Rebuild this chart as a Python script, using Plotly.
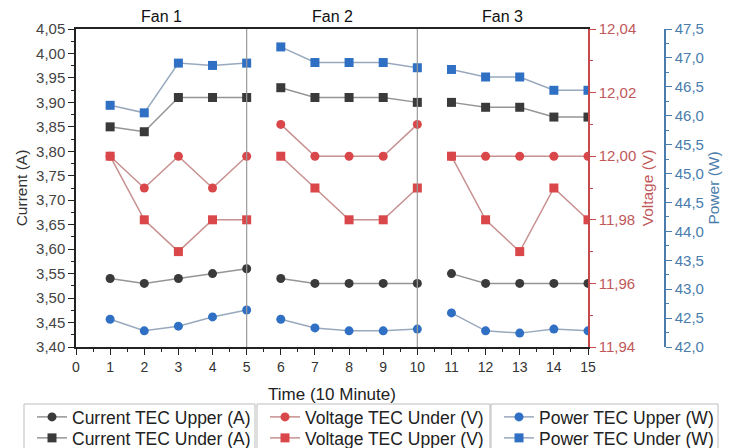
import plotly.graph_objects as go

# ---------------- data ----------------
time = list(range(1, 16))
fan_labels = ["Fan 1", "Fan 2", "Fan 3"]
fan_centers = [2.5, 7.5, 12.5]
fan_boundaries = [5, 10]
points_per_fan = 5

cur_upper = [3.54, 3.53, 3.54, 3.55, 3.56, 3.54, 3.53, 3.53, 3.53, 3.53, 3.55, 3.53, 3.53, 3.53, 3.53]
cur_under = [3.85, 3.84, 3.91, 3.91, 3.91, 3.93, 3.91, 3.91, 3.91, 3.90, 3.90, 3.89, 3.89, 3.87, 3.87]
volt_under = [12.00, 11.99, 12.00, 11.99, 12.00, 12.01, 12.00, 12.00, 12.00, 12.01, 12.00, 12.00, 12.00, 12.00, 12.00]
volt_upper = [12.00, 11.98, 11.97, 11.98, 11.98, 12.00, 11.99, 11.98, 11.98, 11.99, 12.00, 11.98, 11.97, 11.99, 11.98]
pow_upper = [42.48, 42.28, 42.36, 42.52, 42.64, 42.48, 42.33, 42.28, 42.28, 42.31, 42.59, 42.28, 42.24, 42.31, 42.28]
pow_under = [46.18, 46.05, 46.91, 46.87, 46.91, 47.19, 46.92, 46.92, 46.92, 46.83, 46.80, 46.67, 46.67, 46.44, 46.44]

FONT = "Liberation Sans, Arial, sans-serif"
RED = "#c8494b"
RED_TXT = "#c0585a"
BLUE_TXT = "#4a7dab"

W, H = 738, 448
L, R, T, B = 76, 10, 29, 101
paper_w = W - L - R
paper_h = H - T - B
plot_right = 588
dom_end = (plot_right - L) / paper_w
power_pos = (665 - L) / paper_w


def gapped(values):
    xs, ys = [], []
    for i in range(0, len(values), points_per_fan):
        xs += time[i:i + points_per_fan] + [None]
        ys += values[i:i + points_per_fan] + [None]
    return xs, ys


def px_to_paper_x(px):
    return (px - L) / paper_w


def px_to_paper_y(py):
    return (H - B - py) / paper_h


# (name, values, axis, symbol, marker colour, line colour, legend column, legend row)
series = [
    ("Current TEC Upper (A)", cur_upper, "y", "circle", "#3a3a3a", "#959595", 0, 0),
    ("Current TEC Under (A)", cur_under, "y", "square", "#3a3a3a", "#959595", 0, 1),
    ("Voltage TEC Under (V)", volt_under, "y2", "circle", "#d9474a", "#c89090", 1, 0),
    ("Voltage TEC Upper (V)", volt_upper, "y2", "square", "#d9474a", "#c89090", 1, 1),
    ("Power TEC Upper (W)", pow_upper, "y3", "circle", "#2f6fc4", "#98a9bd", 2, 0),
    ("Power TEC Under (W)", pow_under, "y3", "square", "#2f6fc4", "#98a9bd", 2, 1),
]

# legend box geometry (pixels)
box_left = [24, 257, 491]
box_right = [255, 490, 718]
box_top = 404
box_bottom = 452
row_centers = [417, 438]

fig = go.Figure()
legend_layout = {}
for k, (name, vals, yax, sym, mcol, lcol, col, row) in enumerate(series):
    xs, ys = gapped(vals)
    leg_id = "legend" if k == 0 else f"legend{k + 1}"
    fig.add_trace(go.Scatter(
        x=xs, y=ys, name=name, yaxis=yax, mode="lines+markers",
        connectgaps=False,
        line=dict(color=lcol, width=1.5),
        marker=dict(symbol=sym, size=9, color=mcol),
        legend=leg_id,
    ))
    legend_layout[leg_id] = dict(
        x=px_to_paper_x(box_left[col] + 8), y=px_to_paper_y(row_centers[row]),
        xanchor="left", yanchor="middle",
        bgcolor="rgba(0,0,0,0)", borderwidth=0,
        font=dict(family=FONT, size=17.5, color="#222"),
        itemwidth=30,
    )

for x0, x1 in zip(box_left, box_right):
    fig.add_shape(type="rect", xref="paper", yref="paper",
                  x0=px_to_paper_x(x0), x1=px_to_paper_x(x1),
                  y0=px_to_paper_y(box_bottom), y1=px_to_paper_y(box_top),
                  line=dict(color="#bdbdbd", width=1), fillcolor="rgba(0,0,0,0)")

for xb in fan_boundaries:
    fig.add_shape(type="line", xref="x", yref="paper", x0=xb, x1=xb, y0=0, y1=1,
                  line=dict(color="#9a9a9a", width=1.2))

for lab, xc in zip(fan_labels, fan_centers):
    fig.add_annotation(x=xc, y=1, xref="x", yref="paper", yanchor="bottom", text=lab,
                       showarrow=False, yshift=2, font=dict(family=FONT, size=16, color="#111"))

fig.update_layout(
    width=W, height=H,
    margin=dict(l=L, r=R, t=T, b=B, autoexpand=False),
    paper_bgcolor="white", plot_bgcolor="white",
    separators=",.",
    font=dict(family=FONT, size=15, color="#333"),
    showlegend=True,
    xaxis=dict(
        domain=[0, dom_end], range=[0, 15], dtick=1, tick0=0,
        showline=True, linecolor="#222", linewidth=1.5, mirror=True,
        ticks="outside", ticklen=6, tickcolor="#222",
        minor=dict(dtick=0.5, ticks="outside", ticklen=3, tickcolor="#222"),
        showgrid=False, zeroline=False,
        tickfont=dict(family=FONT, size=14, color="#333"),
        title=dict(text="Time (10 Minute)", font=dict(family=FONT, size=17, color="#222")),
    ),
    yaxis=dict(
        range=[3.40, 4.05], dtick=0.05, tick0=3.40, tickformat=".2f",
        showline=True, linecolor="#222", linewidth=1.5,
        ticks="outside", ticklen=6, tickcolor="#222",
        minor=dict(dtick=0.025, ticks="outside", ticklen=3, tickcolor="#222"),
        showgrid=False, zeroline=False,
        tickfont=dict(family=FONT, size=15, color="#444"),
        title=dict(text="Current (A)", font=dict(family=FONT, size=15.5, color="#333"), standoff=5),
    ),
    yaxis2=dict(
        overlaying="y", side="right", anchor="x",
        range=[11.94, 12.04], dtick=0.02, tick0=11.94, tickformat=".2f",
        showline=True, linecolor=RED, linewidth=1.5,
        ticks="outside", ticklen=6, tickcolor=RED,
        minor=dict(dtick=0.01, ticks="outside", ticklen=3, tickcolor=RED),
        showgrid=False, zeroline=False,
        tickfont=dict(family=FONT, size=15, color=RED_TXT),
        title=dict(text="Voltage (V)", font=dict(family=FONT, size=15.5, color=RED_TXT), standoff=7),
    ),
    yaxis3=dict(
        overlaying="y", side="right", anchor="free", position=power_pos,
        range=[42.0, 47.5], dtick=0.5, tick0=42.0, tickformat=".1f",
        showline=True, linecolor=BLUE_TXT, linewidth=1.5,
        ticks="outside", ticklen=6, tickcolor=BLUE_TXT,
        minor=dict(dtick=0.25, ticks="outside", ticklen=3, tickcolor=BLUE_TXT),
        showgrid=False, zeroline=False,
        tickfont=dict(family=FONT, size=15, color=BLUE_TXT),
        title=dict(text="Power (W)", font=dict(family=FONT, size=15.5, color=BLUE_TXT), standoff=4),
    ),
    **legend_layout,
)

fig.write_html("out.html")
